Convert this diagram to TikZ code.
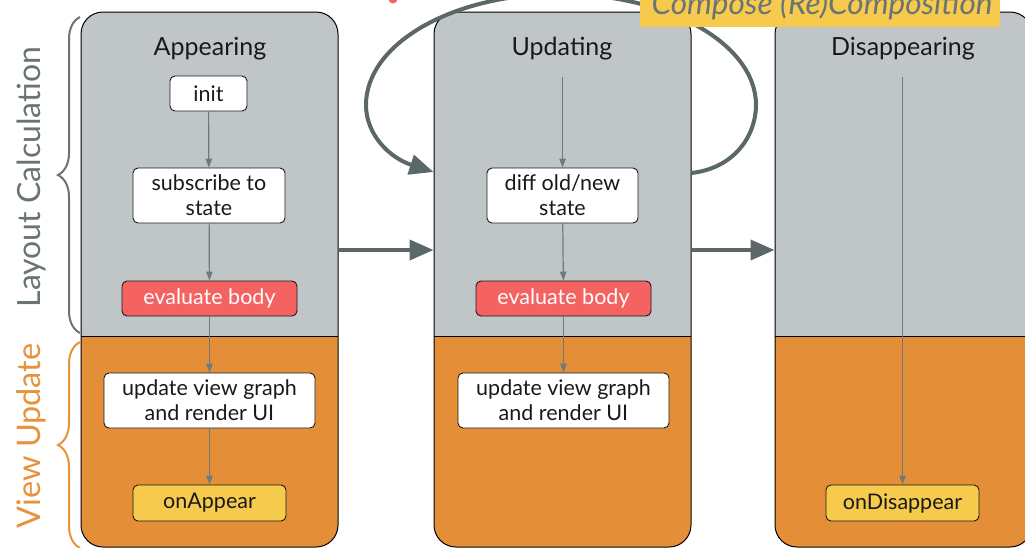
\documentclass[tikz,border=0pt]{standalone}
\usepackage{fontspec}
\setmainfont{Lato}
\usetikzlibrary{arrows.meta,decorations.pathreplacing}

\definecolor{laneGray}{HTML}{C0C6C8}
\definecolor{laneOrange}{HTML}{E48F38}
\definecolor{redBox}{HTML}{F46262}
\definecolor{yellowBox}{HTML}{F6CB4D}
\definecolor{arrowGray}{HTML}{5C6768}
\definecolor{thinGray}{HTML}{6E7A7C}
\definecolor{labelGray}{HTML}{6A7476}
\definecolor{orangeText}{HTML}{E8923B}

\begin{document}
\begin{tikzpicture}[x=1pt,y=-1pt,
  lane/.style={draw=black, line width=1pt, rounded corners=22pt,
    minimum width=257pt, minimum height=535pt, inner sep=0pt,
    path picture={
      \fill[laneGray, sharp corners] (path picture bounding box.north west)
        rectangle ([yshift=-324pt]path picture bounding box.north east);
      \fill[laneOrange, sharp corners] ([yshift=-324pt]path picture bounding box.north west)
        rectangle (path picture bounding box.south east);
      \draw[black, line width=1pt, sharp corners] ([yshift=-324pt]path picture bounding box.north west)
        -- ([yshift=-324pt]path picture bounding box.north east);
    }},
  lanetitle/.style={anchor=base, font=\fontsize{25}{25}\selectfont, text=black!90},
  stepbox/.style={draw=black!90, line width=0.9pt, rounded corners=5pt, fill=white,
    align=center, inner sep=0pt, font=\fontsize{21.5}{25}\selectfont, text=black!90},
  flow/.style={draw=thinGray, line width=1.2pt, -{Triangle[length=9pt,width=6.5pt]}},
  bigarrow/.style={draw=arrowGray, line width=4pt, -{Triangle[length=24pt,width=20pt]}},
  bracestyle/.style={decorate, decoration={brace, amplitude=22pt}, line width=2pt},
]
\useasboundingbox (0,0) rectangle (1025,547);
\clip (0,0) rectangle (1025,547);

% the three lifecycle lanes
\node[lane] (app) at (209.5,279.5) {};
\node[lane] (upd) at (562.5,279.5) {};
\node[lane] (dis) at (903.5,279.5) {};

\node[lanetitle] (appT) at (210,55) {Appearing};
\node[lanetitle] (updT) at (562,55) {Updating};
\node[lanetitle] (disT) at (903,55) {Disappearing};

% Appearing steps
\node[stepbox, minimum width=77pt, minimum height=35pt] (init) at (208.5,93.5) {init};
\node[stepbox, minimum width=152pt, minimum height=55pt] (sub) at (209,195.5) {subscribe to\\state};
\node[stepbox, fill=redBox, text=white, minimum width=175pt, minimum height=35pt] (eval1) at (209.5,298.5) {evaluate body};
\node[stepbox, minimum width=211pt, minimum height=55pt] (render1) at (209.5,400.5) {update view graph\\and render UI};
\node[stepbox, fill=yellowBox, minimum width=153pt, minimum height=36pt] (appear) at (209.5,503) {onAppear};

% Updating steps
\coordinate (updTop) at (562.5,77);
\node[stepbox, minimum width=151pt, minimum height=55pt] (diff) at (562.5,195.5) {diff old/new\\state};
\node[stepbox, fill=redBox, text=white, minimum width=175pt, minimum height=35pt] (eval2) at (563.5,298.5) {evaluate body};
\node[stepbox, minimum width=211pt, minimum height=55pt] (render2) at (563.5,400.5) {update view graph\\and render UI};

% Disappearing steps
\coordinate (disTop) at (902.5,77);
\node[stepbox, fill=yellowBox, minimum width=153pt, minimum height=36pt] (disappear) at (902.5,503) {onDisappear};

% flow inside the lanes
\draw[flow] (init) -- (sub);
\draw[flow] (sub) -- (eval1);
\draw[flow] (eval1) -- (render1);
\draw[flow] (render1) -- (appear);
\draw[flow] (updTop) -- (diff);
\draw[flow] (diff) -- (eval2);
\draw[flow] (eval2) -- (render2);
\draw[flow] (disTop) -- (disappear);

% transitions between lanes
\draw[bigarrow] ([yshift=29.5pt]app.east) -- ([yshift=29.5pt]upd.west);
\draw[bigarrow] ([yshift=29.5pt]upd.east) -- ([yshift=29.5pt]dis.west);

% recomposition loop
\coordinate (loopS) at ([yshift=106.5pt]upd.east);
\coordinate (loopE) at ([yshift=107.5pt]upd.west);
\draw[bigarrow] (loopS) .. controls (735,168) and (756,135) .. (756,105)
  .. controls (756,44) and (668,-6) .. (560,-6)
  .. controls (452,-6) and (366,44) .. (366,105)
  .. controls (366,135) and (390,158) .. (loopE);

\fill[redBox] (393,-1) circle (4.5);

% label of the loop
\node[fill=yellowBox, minimum width=360pt, minimum height=57pt, inner sep=0pt, anchor=south] (composeBox) at (820,27) {};
\node[anchor=base, font=\itshape\fontsize{31.5}{31.5}\selectfont, text=labelGray] (compose) at (822,14) {Compose (Re)Composition};

% phase braces and labels
\draw[bracestyle, draw=labelGray] (80,333) -- (80,17);
\draw[bracestyle, draw=orangeText] (80,548) -- (80,342);
\node[rotate=90, font=\fontsize{32}{32}\selectfont, text=labelGray] (layoutL) at (31,177) {Layout Calculation};
\node[rotate=90, font=\fontsize{32.5}{32.5}\selectfont, text=orangeText] (viewL) at (31,436) {View Update};
\end{tikzpicture}
\end{document}
